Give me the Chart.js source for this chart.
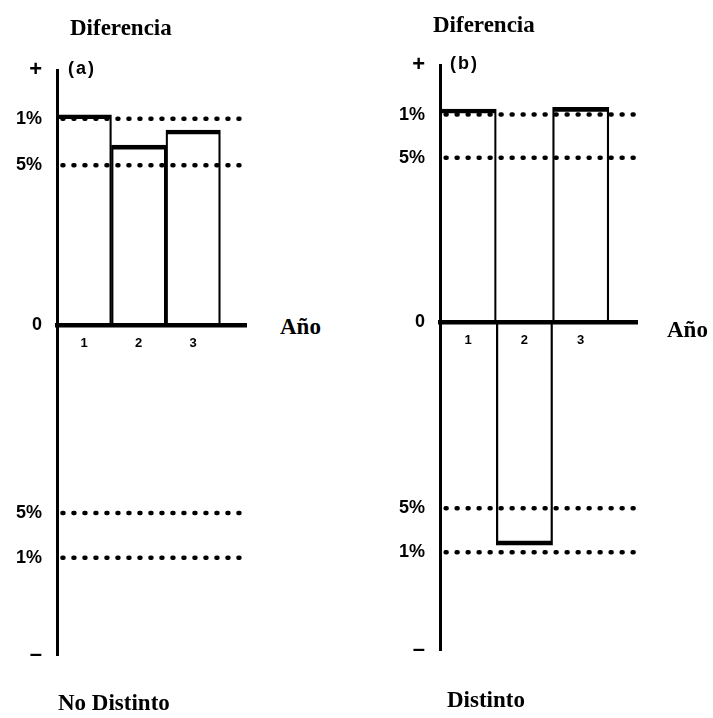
<!DOCTYPE html>
<html>
<head>
<meta charset="utf-8">
<script src="https://cdn.jsdelivr.net/npm/chart.js@4"></script>
<style>
  body { margin: 0; background: #fff; width: 713px; height: 718px; position: relative; overflow: hidden; }
  canvas { position: absolute; top: 0; }
  .t { position: absolute; font-family: "Liberation Serif", serif; font-weight: bold; font-size: 23px; line-height: 1; color: #000; white-space: nowrap; }
  .p { position: absolute; font-family: "Liberation Sans", sans-serif; font-weight: bold; font-size: 18px; line-height: 1; letter-spacing: 2px; color: #000; }
</style>
</head>
<body>
<canvas id="chartA" width="270" height="718" style="left:0px"></canvas>
<canvas id="chartB" width="330" height="718" style="left:383px"></canvas>

<div class="t" style="left:70px; top:16px">Diferencia</div>
<div class="t" style="left:433px; top:13px">Diferencia</div>
<div class="p" style="left:68px; top:59px">(a)</div>
<div class="p" style="left:450px; top:54px">(b)</div>
<div class="t" style="left:280px; top:315px">Año</div>
<div class="t" style="left:667px; top:318px">Año</div>
<div class="t" style="left:58px; top:691px">No Distinto</div>
<div class="t" style="left:447px; top:688px">Distinto</div>

<script>
// año (x) y diferencia de cada año, en unidades del eje vertical
const years = [1, 2, 3];
const diffA = [2.63, 2.25, 2.44];
const diffB = [2.66, -2.79, 2.68];
// niveles de significacion: +1%, +5%, -5%, -1%
const limitsA = [2.58, 2.0, -2.35, -2.91];
const limitsB = [2.59, 2.05, -2.33, -2.88];
const yTickLabels = ['+', '1%', '5%', '0', '5%', '1%', '–'];

function makeChart(id, diff, limits, yMin, yMax, xMax, pad) {
  const ctx = document.getElementById(id);
  const tickVals = [yMax, limits[0], limits[1], 0, limits[2], limits[3], yMin];
  const datasets = [{
    type: 'bar',
    data: years.map((x, i) => ({x: x, y: diff[i]})),
    backgroundColor: 'rgba(0,0,0,0)',
    borderColor: '#000',
    borderWidth: {top: 4, bottom: 4, left: 1.6, right: 1.6},
    borderSkipped: 'start',
    barPercentage: 1,
    categoryPercentage: 1,
    order: 1
  }];
  limits.forEach(v => {
    datasets.push({
      type: 'line',
      data: [{x: 0.6, y: v}, {x: xMax - 0.02, y: v}],
      borderColor: '#000',
      borderWidth: 4.5,
      borderDash: [1, 10],
      borderCapStyle: 'round',
      pointRadius: 0,
      order: 2
    });
  });
  return new Chart(ctx, {
    type: 'bar',
    data: {datasets: datasets},
    options: {
      responsive: false,
      animation: false,
      layout: {padding: {left: 0, right: pad.right, top: pad.top, bottom: pad.bottom}},
      plugins: {legend: {display: false}, tooltip: {enabled: false}},
      scales: {
        x: {
          type: 'linear',
          min: 0.5,
          max: xMax,
          offset: false,
          position: {y: 0},
          grid: {display: false},
          border: {display: true, color: '#000', width: 4.5},
          ticks: {color: '#000', autoSkip: false, maxRotation: 0, padding: 3,
                  font: {family: 'Liberation Sans', size: 13, weight: 'bold'}},
          afterBuildTicks: s => { s.ticks = years.map(v => ({value: v})); },
          afterFit: s => { s.height = 0; }
        },
        y: {
          min: yMin,
          max: yMax,
          grid: {display: false},
          border: {display: true, color: '#000', width: 3},
          ticks: {color: '#000', autoSkip: false, padding: 7,
                  font: c => ({family: 'Liberation Sans', weight: 'bold',
                               size: (c.index === 0 || c.index === 6) ? 22 : 18}),
                  callback: (v, i) => yTickLabels[i]},
          afterBuildTicks: s => { s.ticks = tickVals.map(v => ({value: v})); },
          afterFit: s => { s.width = 57; }
        }
      }
    }
  });
}

makeChart('chartA', diffA, limitsA, -4.125, 3.19, 3.97, {right: 24, top: 70, bottom: 63});
makeChart('chartB', diffB, limitsB, -4.1, 3.21, 4.0, {right: 76, top: 65, bottom: 68});
</script>
</body>
</html>
